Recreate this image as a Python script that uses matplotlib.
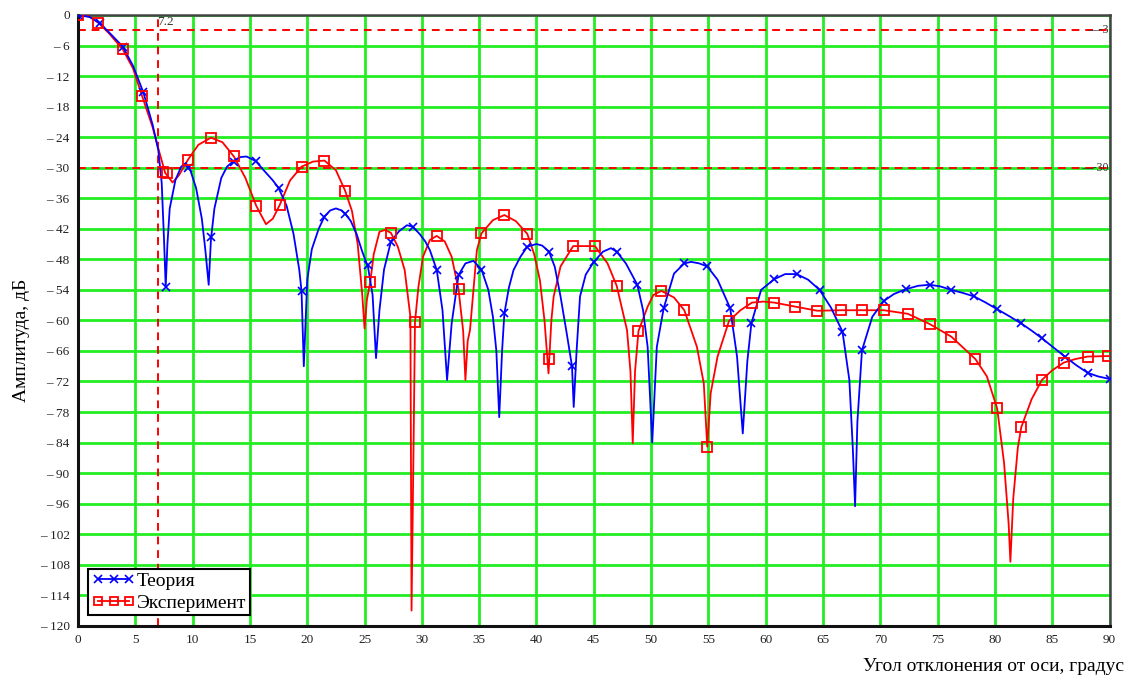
import matplotlib
matplotlib.use("Agg")
import matplotlib.pyplot as plt
from matplotlib.lines import Line2D

plt.rcParams['font.family'] = ['Liberation Serif', 'DejaVu Serif']

# theory curve (dense trace) and its marker points
theory_x = [0, 1.0, 1.9, 2.7, 3.9, 4.8, 5.7, 6.5, 7.0, 7.3, 7.5, 7.65, 7.8, 8.0, 8.5, 9.0,
            9.4, 9.8, 10.3, 10.8, 11.1, 11.4, 11.6, 11.9, 12.5, 13.0, 13.6, 14.2, 14.7,
            15.5, 16.2, 17.0, 17.5, 18.2, 18.8, 19.3, 19.5, 19.7, 20.0, 20.4, 21.0, 21.5,
            22.0, 22.5, 23.0, 23.3, 23.8, 24.3, 24.8, 25.3, 25.7, 26.0, 26.3, 26.7, 27.3,
            28.0, 28.7, 29.2, 29.8, 30.3, 30.7, 31.3, 31.8, 32.2, 32.6, 33.2, 33.8, 34.5,
            35.2, 35.8, 36.2, 36.5, 36.75, 37.0, 37.2, 37.6, 38.0, 38.6, 39.2, 40.0, 40.5,
            41.1, 41.6, 42.1, 42.6, 43.1, 43.25, 43.5, 43.8, 44.3, 45.0, 45.8, 46.5, 47.0,
            47.8, 48.8, 49.3, 49.7, 50.1, 50.5, 51.1, 52.0, 52.9, 53.5, 54.2, 54.9, 55.8,
            56.9, 57.5, 58.0, 58.4, 58.75, 59.6, 60.75, 61.7, 62.7, 63.7, 64.7, 65.7, 66.7,
            67.3, 67.6, 67.8, 68.0, 68.4, 69.3, 70.3, 71.2, 72.2, 73.3, 74.3, 75.2, 76.2,
            77.2, 78.2, 79.2, 80.2, 81.2, 82.3, 83.2, 84.1, 85.1, 86.1, 87.1, 88.1, 89.0, 90]
theory_y = [0, -0.4, -1.6, -3.4, -6.2, -10.0, -15.2, -21.5, -26.5, -33, -44, -53.4, -45,
            -38, -32.4, -29.8, -29.1, -30.5, -34, -40, -46, -53, -44, -38, -32, -29.8,
            -28.6, -27.9, -27.8, -28.7, -30.5, -32.5, -34, -37.5, -43, -50, -54.2, -69,
            -52, -46, -42, -39.6, -38.4, -38, -38.4, -39, -40.5, -43, -46.5, -49.5, -55,
            -67.4, -58, -50, -44.5, -42.5, -41.3, -41.6, -43, -44.5, -46.2, -50.1, -58,
            -71.7, -60.6, -51.1, -48.8, -48.3, -50, -54, -59.3, -66, -79, -66, -58.6, -53.5,
            -50.1, -47.5, -45.5, -45, -45.3, -46.5, -49.5, -55.3, -62, -69, -77, -66, -55.3,
            -51, -48.5, -46.5, -45.8, -46.5, -48.8, -53, -58, -65.2, -84, -65.2, -57.6,
            -50.8, -48.8, -48.5, -48.8, -49.4, -52, -57.6, -67.1, -82.2, -68, -60.6, -54,
            -51.9, -50.9, -50.9, -52, -54, -57.5, -62.2, -71.7, -85, -96.5, -80, -65.9,
            -59.3, -56.2, -54.8, -53.9, -53.2, -53, -53.3, -54, -54.6, -55.3, -56.5, -57.8,
            -59.1, -60.6, -62, -63.5, -65.3, -67.1, -68.8, -70.3, -71, -71.5]
theory_mx = [0, 1.9, 3.9, 5.7, 7.65, 9.6, 11.6, 13.6, 15.5, 17.5, 19.5, 21.5, 23.3, 25.3,
             27.3, 29.2, 31.3, 33.2, 35.2, 37.2, 39.2, 41.1, 43.1, 45.0, 47.0, 48.8, 51.1,
             52.9, 54.9, 56.9, 58.75, 60.75, 62.7, 64.7, 66.7, 68.4, 70.3, 72.2, 74.3, 76.2,
             78.2, 80.2, 82.3, 84.1, 86.1, 88.1, 90]
theory_my = [0, -1.6, -6.2, -15.2, -53.4, -30.1, -43.7, -28.8, -28.7, -34, -54.2, -39.6,
             -39, -49.1, -44.5, -41.6, -50.1, -51.1, -50, -58.6, -45.5, -46.5, -69, -48.5,
             -46.5, -53, -57.6, -48.8, -49.4, -57.6, -60.6, -51.9, -50.9, -54, -62.2, -65.9,
             -56.2, -53.9, -53, -54, -55.3, -57.8, -60.6, -63.5, -67.1, -70.3, -71.5]

# experiment curve (dense trace) and its marker points
exp_x = [0, 1.0, 1.75, 2.7, 3.9, 4.8, 5.6, 6.5, 7.1, 7.6, 8.25, 8.8, 9.6, 10.5, 11.6, 12.6,
         13.6, 14.6, 15.55, 16.4, 17.0, 17.6, 18.5, 19.5, 20.5, 21.5, 22.5, 23.3, 23.9,
         24.4, 24.8, 25.0, 25.2, 25.5, 25.8, 26.3, 26.8, 27.3, 27.9, 28.5, 29.0, 29.1,
         29.3, 29.4, 29.7, 30.1, 30.7, 31.3, 32.0, 32.6, 33.2, 33.6, 33.8, 34.0, 34.2,
         34.8, 35.2, 36.2, 37.2, 38.2, 39.2, 39.8, 40.3, 40.7, 41.05, 41.3, 41.5, 42.1,
         43.2, 44.2, 45.1, 46.2, 47.0, 47.9, 48.2, 48.4, 48.6, 48.9, 49.7, 50.2, 50.9,
         52.0, 52.9, 54.0, 54.6, 54.9, 55.2, 55.8, 56.8, 57.8, 58.8, 59.8, 60.75, 62.6,
         64.5, 66.6, 68.4, 70.3, 72.4, 74.3, 76.2, 78.3, 79.3, 80.2, 80.8, 81.2, 81.35,
         81.6, 82.0, 82.3, 83.2, 84.1, 85.0, 86.0, 87.0, 88.1, 90]
exp_y = [0, -0.3, -1.5, -3.6, -6.75, -10.5, -16, -22, -27, -31, -32.9, -31.5, -28.4,
         -25.5, -24.1, -25, -27.8, -32, -37.5, -41.1, -40, -37.3, -32.5, -29.8, -28.8,
         -28.6, -30.5, -34.5, -38.5, -45, -55, -61.6, -56, -52.4, -47, -42.6, -42.2,
         -42.8, -45.5, -50.1, -59.3, -117, -80, -60.3, -53.4, -47.5, -44.2, -43.4, -44.5,
         -47.5, -53.9, -62, -71.7, -64, -61.9, -46.2, -42.9, -40.3, -39.3, -40.5, -43,
         -47, -52.1, -60, -70.4, -60, -55.3, -49.4, -45.4, -45.4, -45.4, -48.8, -53.2,
         -61.9, -70, -84.1, -70, -62.1, -57.3, -55, -54.2, -55.5, -58, -65.2, -72.4, -84.8,
         -74.3, -67.1, -60.1, -58, -56.5, -56.3, -56.5, -57.3, -58.1, -58, -58, -58, -58.7,
         -60.7, -63.2, -67.6, -71, -77.3, -88, -100, -107.4, -95, -85, -81, -75.5, -71.7,
         -69.8, -68.3, -67.6, -67.1, -67]
exp_mx = [0, 1.75, 3.9, 5.6, 7.4, 7.8, 9.6, 11.6, 13.6, 15.55, 17.6, 19.5, 21.5, 23.3,
          25.5, 27.3, 29.4, 31.3, 33.2, 35.2, 37.2, 39.2, 41.1, 43.2, 45.1, 47.0, 48.9,
          50.9, 52.9, 54.9, 56.8, 58.8, 60.7, 62.6, 64.5, 66.6, 68.4, 70.3, 72.4, 74.3,
          76.2, 78.3, 80.2, 82.3, 84.1, 86.0, 88.1, 89.9]
exp_my = [0, -1.5, -6.75, -16, -30.8, -31, -28.4, -24.1, -27.8, -37.5, -37.3, -29.8,
          -28.6, -34.5, -52.4, -42.8, -60.3, -43.4, -53.9, -42.9, -39.3, -43, -67.6, -45.4,
          -45.4, -53.2, -62.1, -54.2, -58, -84.8, -60.1, -56.5, -56.5, -57.3, -58.1, -58,
          -58, -58, -58.7, -60.7, -63.2, -67.6, -77.3, -81, -71.7, -68.3, -67.1, -67]

x_ticks = list(range(0, 91, 5))
y_ticks = list(range(0, -121, -6))
y_tick_labels = ['0'] + ['\u2013 %d' % -v for v in y_ticks[1:]]

level_lines = [-3, -30]
level_labels = ['-3', '-30']
width_angle = 7.0
width_label = '7.2'

fig = plt.figure(figsize=(11.31, 6.81), dpi=100)
ax = fig.add_axes([0.069, 0.081, 0.912, 0.897])

blue = '#0000ff'
red = '#ff0000'

ax.plot(theory_x, theory_y, color=blue, lw=1.3, zorder=4)
ax.plot(theory_mx, theory_my, ls='none', marker='x', ms=6, mew=1.2, color=blue, zorder=5)
ax.plot(exp_x, exp_y, color=red, lw=1.3, zorder=3)
ax.plot(exp_mx, exp_my, ls='none', marker='s', ms=7, mew=1.3, mfc='none', mec=red, zorder=5)

for lv, lab in zip(level_lines, level_labels):
    ax.axhline(lv, color=red, ls=(0, (4, 3)), lw=1.4, zorder=2)
    ax.text(89.9, lv, '\u2014' + lab, ha='right', va='center', fontsize=8.5, color='#333333')
ax.axvline(width_angle, color=red, ls=(0, (4, 3)), lw=1.4, zorder=2)
ax.text(width_angle - 0.1, -1.4, width_label, ha='left', va='center', fontsize=9.5, color='#333333')

ax.set_xlim(0, 90)
ax.set_ylim(-120, 0)
ax.set_xticks(x_ticks)
ax.set_yticks(y_ticks)
ax.set_yticklabels(y_tick_labels)
ax.tick_params(length=0, labelsize=9.5, pad=6, colors='#222222')
ax.grid(True, color='#22ee22', lw=2)
ax.set_axisbelow(True)

for side in ['left', 'bottom']:
    ax.spines[side].set_linewidth(2.2)
    ax.spines[side].set_color('#111111')
for side in ['top', 'right']:
    ax.spines[side].set_linewidth(1.8)
    ax.spines[side].set_color('#444444')

fig.text(0.019, 0.5, 'Амплитуда, дБ', rotation=90, ha='center', va='center', fontsize=14)
fig.text(0.994, 0.022, 'Угол отклонения от оси, градус', ha='right', va='center', fontsize=14)

handles = [Line2D([], [], color=blue, lw=1.3, marker='x', ms=6, mew=1.2),
           Line2D([], [], color=red, lw=1.3, marker='s', ms=6, mew=1.3, mfc='none', mec=red)]
leg = ax.legend(handles, ['Теория', 'Эксперимент'], loc='lower left',
                bbox_to_anchor=(0.01, 0.017), numpoints=3, handlelength=2.2,
                handletextpad=0.1, borderpad=0.2, labelspacing=0.2, borderaxespad=0,
                fontsize=14, fancybox=False, framealpha=1, edgecolor='black')
leg.get_frame().set_linewidth(1.5)

fig.savefig('out.png', dpi=100)
